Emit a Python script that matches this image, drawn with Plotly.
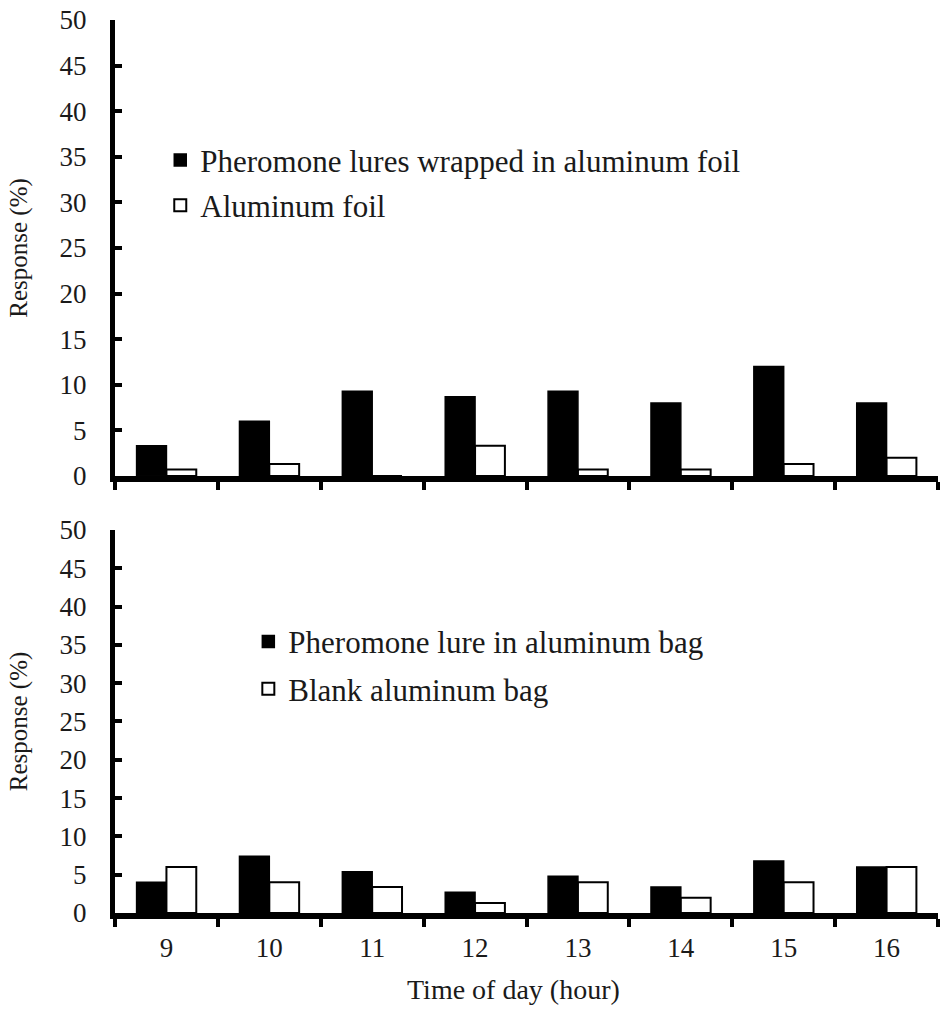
import plotly.graph_objects as go

hours = ["9", "10", "11", "12", "13", "14", "15", "16"]
top_lure = [3.3, 6.0, 9.3, 8.7, 9.3, 8.0, 12.0, 8.0]
top_foil = [0.7, 1.3, 0.0, 3.3, 0.7, 0.7, 1.3, 2.0]
bot_lure = [4.0, 7.4, 5.4, 2.7, 4.8, 3.4, 6.8, 6.0]
bot_blank = [6.0, 4.0, 3.4, 1.3, 4.0, 2.0, 4.0, 6.0]
y_ticks = list(range(0, 51, 5))

FONT = "Liberation Serif"
TXT = "#1a1a1a"

fig = go.Figure()
fig.add_trace(go.Bar(x=hours, y=top_lure, name="Pheromone lures wrapped in aluminum foil",
                     marker=dict(color="black", line=dict(color="black", width=1.5)),
                     xaxis="x", yaxis="y", legend="legend", legendgroup="a"))
fig.add_trace(go.Bar(x=hours, y=top_foil, name="Aluminum foil",
                     marker=dict(color="white", line=dict(color="black", width=2)),
                     xaxis="x", yaxis="y", legend="legend", legendgroup="b"))
fig.add_trace(go.Bar(x=hours, y=bot_lure, name="Pheromone lure in aluminum bag",
                     marker=dict(color="black", line=dict(color="black", width=1.5)),
                     xaxis="x2", yaxis="y2", legend="legend2", legendgroup="c"))
fig.add_trace(go.Bar(x=hours, y=bot_blank, name="Blank aluminum bag",
                     marker=dict(color="white", line=dict(color="black", width=2)),
                     xaxis="x2", yaxis="y2", legend="legend2", legendgroup="d"))

xcommon = dict(type="category", range=[-0.5, 7.5], showline=True, linecolor="black",
               linewidth=6, ticks="outside", tickson="boundaries", ticklen=8,
               tickwidth=4, tickcolor="black", showgrid=False, zeroline=False,
               tickfont=dict(family=FONT, size=27, color=TXT))
ycommon = dict(range=[0, 50], tickvals=y_ticks, showline=True, linecolor="black",
               linewidth=5, ticks="inside", ticklen=7, tickwidth=4, tickcolor="black",
               showgrid=False, zeroline=False, ticklabelstandoff=18,
               tickfont=dict(family=FONT, size=27, color=TXT),
               title=dict(text="Response (%)", font=dict(family=FONT, size=25, color=TXT),
                          standoff=26))

fig.update_layout(
    width=941, height=1010,
    margin=dict(l=115, r=3, t=20, b=97),
    paper_bgcolor="white", plot_bgcolor="white",
    barmode="group", bargap=0.42, bargroupgap=0,
    font=dict(family=FONT, color=TXT),
    xaxis=dict(xcommon, anchor="y", domain=[0, 1], showticklabels=False),
    yaxis=dict(ycommon, anchor="x", domain=[0.4894, 1]),
    xaxis2=dict(xcommon, anchor="y2", domain=[0, 1], ticklabelstandoff=6),
    yaxis2=dict(ycommon, anchor="x2", domain=[0, 0.4289]),
    annotations=[dict(text="Time of day (hour)", xref="paper", yref="paper",
                      x=0.484, y=-0.086, xanchor="center", yanchor="middle",
                      showarrow=False, font=dict(family=FONT, size=28, color=TXT))],
    legend=dict(x=0.055, y=0.873, xanchor="left", yanchor="top",
                font=dict(family=FONT, size=31, color=TXT),
                tracegroupgap=2, bgcolor="rgba(0,0,0,0)"),
    legend2=dict(x=0.162, y=0.334, xanchor="left", yanchor="top",
                 font=dict(family=FONT, size=31, color=TXT),
                 tracegroupgap=4, bgcolor="rgba(0,0,0,0)"),
)

fig.write_html("out.html")
